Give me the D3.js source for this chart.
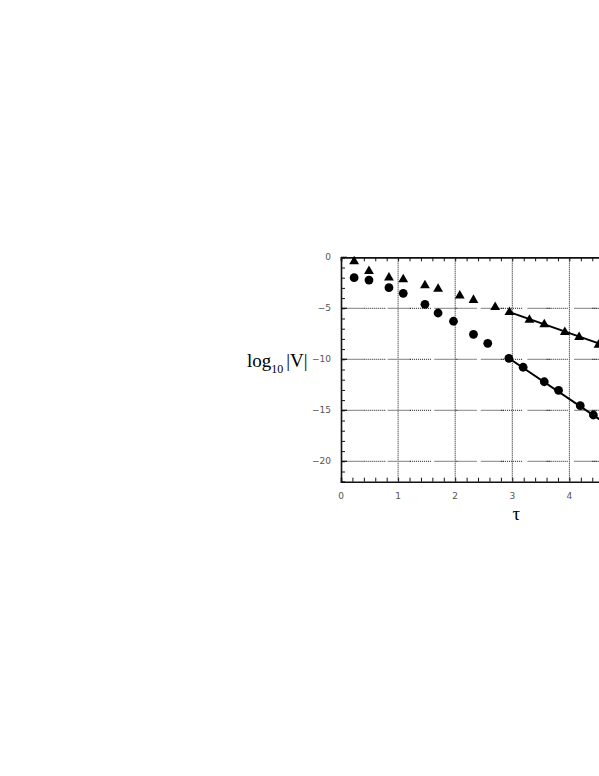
<!DOCTYPE html>
<html><head><meta charset="utf-8">
<script src="https://cdn.jsdelivr.net/npm/d3@7"></script>
<style>
html,body{margin:0;padding:0;background:#fff;overflow:hidden;}
svg{display:block;}
</style></head>
<body>
<script>
// data
const triT = [0.23,0.49,0.84,1.09,1.47,1.70,2.08,2.32,2.70,2.95,3.30,3.56,3.92,4.17,4.51];
const triV = [-0.4,-1.37,-2.0,-2.16,-2.75,-3.1,-3.76,-4.19,-4.9,-5.39,-6.15,-6.57,-7.35,-7.84,-8.6];
const cirT = [0.23,0.49,0.84,1.09,1.47,1.70,1.97,2.32,2.57,2.94,3.19,3.56,3.81,4.19,4.42];
const cirV = [-2.0,-2.23,-2.98,-3.53,-4.61,-5.46,-6.27,-7.55,-8.43,-9.9,-10.78,-12.2,-13.04,-14.55,-15.46];
const fitTriT = [2.94, 6.0];
const fitTriV = [-5.35, -11.36];
const fitCirT = [2.94, 5.9];
const fitCirV = [-9.9, -21.05];
const xMajor = [0,1,2,3,4,5,6];
const xLabels = ["0","1","2","3","4"];
const yMajor = [0,-5,-10,-15,-20];
const yLabels = ["0","\u22125","\u221210","\u221215","\u221220"];
const xDomain = [0, 6];
const yDomain = [-22, 0];

(function () {
const W = 599, H = 776;
const svg = d3.select("body").append("svg").attr("width", W).attr("height", H);
svg.append("rect").attr("width", W).attr("height", H).attr("fill", "#fff");

const x0 = 341, pxPerX = 57.1;
const x = d3.scaleLinear().domain(xDomain).range([x0, x0 + pxPerX * (xDomain[1]-xDomain[0])]);
const y = d3.scaleLinear().domain(yDomain).range([257.3 + 10.2*22, 257.3]);
const pL = x(xDomain[0]), pR = x(xDomain[1]), pT = y(0), pB = y(yDomain[0]);

const g = svg.append("g");

// vertical grid lines (dotted)
g.selectAll(".vg").data(xMajor.filter(d => d > 0)).enter().append("line")
  .attr("x1", d => x(d)).attr("x2", d => x(d)).attr("y1", pT).attr("y2", pB)
  .attr("stroke", "#111").attr("stroke-width", 1).attr("stroke-dasharray", "1,1");

// horizontal grid lines: gray segments alternating with dotted segments
const seg = 23.3;
g.selectAll(".hg").data(yMajor.filter(d => d < 0)).enter().append("line")
  .attr("x1", pL).attr("x2", pR).attr("y1", d => y(d)).attr("y2", d => y(d))
  .attr("stroke", "#999").attr("stroke-width", 1.2).attr("stroke-dasharray", seg + "," + seg);
const dots = [];
for (let i = 0; i < 11; i++) dots.push(1, 1);
dots[dots.length - 1] = 1 + seg + 0.3;
g.selectAll(".hgd").data(yMajor.filter(d => d < 0)).enter().append("line")
  .attr("x1", pL + seg).attr("x2", pR).attr("y1", d => y(d)).attr("y2", d => y(d))
  .attr("stroke", "#111").attr("stroke-width", 1).attr("stroke-dasharray", dots.join(","));

// axes with inner ticks
const xMinor = d3.range(0, xDomain[1] + 0.001, 0.2).map(v => +v.toFixed(2));
const yMinor = d3.range(yDomain[0], 0.001, 1);

const axB = d3.axisBottom(x).tickValues(xMinor).tickSize(-4).tickFormat("");
const axT = d3.axisTop(x).tickValues(xMinor).tickSize(-4).tickFormat("");
const axL = d3.axisLeft(y).tickValues(yMinor).tickSize(-4).tickFormat("");

function styleAxis(sel, w) {
  sel.select(".domain").attr("stroke", "#111").attr("stroke-width", w).attr("fill", "none");
  sel.selectAll(".tick line").attr("stroke", "#111").attr("stroke-width", 1);
}
styleAxis(g.append("g").attr("transform", `translate(0,${pB})`).call(axB), 1.6);
styleAxis(g.append("g").attr("transform", `translate(0,${pT})`).call(axT), 1.8);
styleAxis(g.append("g").attr("transform", `translate(${pL},0)`).call(axL), 1.6);

// major tick marks on left slightly longer
g.selectAll(".ym").data(yMajor).enter().append("line")
  .attr("x1", pL).attr("x2", pL + 6).attr("y1", d => y(d)).attr("y2", d => y(d))
  .attr("stroke", "#111").attr("stroke-width", 1.2);

// tick labels
g.selectAll(".xl").data(xLabels).enter().append("text")
  .attr("x", (d, i) => x(xMajor[i])).attr("y", pB + 17)
  .attr("text-anchor", "middle").attr("font-family", "DejaVu Sans, sans-serif")
  .attr("font-size", 9).attr("fill", "#555").text(d => d);
g.selectAll(".yl").data(yLabels).enter().append("text")
  .attr("x", pL - 10).attr("y", (d, i) => y(yMajor[i]) + 3)
  .attr("text-anchor", "end").attr("font-family", "DejaVu Sans, sans-serif")
  .attr("font-size", 9).attr("fill", "#555").text(d => d);

// fit lines
const line = d3.line().x(d => x(d[0])).y(d => y(d[1]));
g.append("path").attr("d", line(fitTriT.map((t, i) => [t, fitTriV[i]])))
  .attr("stroke", "#000").attr("stroke-width", 2).attr("fill", "none");
g.append("path").attr("d", line(fitCirT.map((t, i) => [t, fitCirV[i]])))
  .attr("stroke", "#000").attr("stroke-width", 2).attr("fill", "none");

// markers
g.selectAll(".tri").data(triT.map((t, i) => [t, triV[i]])).enter().append("path")
  .attr("transform", d => `translate(${x(d[0])},${y(d[1])})`)
  .attr("d", d3.symbol().type(d3.symbolTriangle).size(42))
  .attr("fill", "#000");
g.selectAll(".cir").data(cirT.map((t, i) => [t, cirV[i]])).enter().append("circle")
  .attr("cx", d => x(d[0])).attr("cy", d => y(d[1])).attr("r", 4.4)
  .attr("fill", "#000");

// axis titles
const yt = svg.append("text").attr("x", 247).attr("y", 367)
  .attr("font-family", "Liberation Serif, Times New Roman, serif").attr("font-size", 19).attr("fill", "#000");
yt.append("tspan").text("log");
yt.append("tspan").attr("font-size", 12).attr("dy", 6).text("10");
yt.append("tspan").attr("dy", -6).attr("dx", 3).text("|V|");

svg.append("text").attr("x", x(3.07)).attr("y", 520).attr("text-anchor", "middle")
  .attr("font-family", "Liberation Serif, Times New Roman, serif").attr("font-size", 19)
  .attr("fill", "#000").text("\u03c4");
})();
</script>
</body></html>
